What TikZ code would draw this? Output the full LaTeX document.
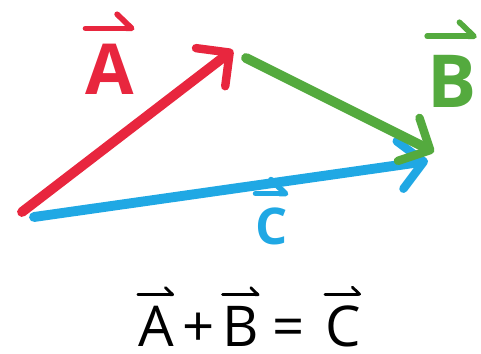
\documentclass[tikz,border=0pt]{standalone}
\usepackage{fontspec}
\setmainfont{Open Sans}
\usetikzlibrary{arrows.meta}
\definecolor{vecred}{RGB}{232,38,62}
\definecolor{vecgreen}{RGB}{84,170,62}
\definecolor{vecblue}{RGB}{32,168,228}

\begin{document}
\begin{tikzpicture}[x=0.025cm,y=-0.025cm,
    vector/.style={line width=7pt,line cap=round,
      -{Straight Barb[round,length=0.6cm,width=1.2cm,line width=6pt]}},
    vlabel/.style={anchor=base,inner sep=0pt,font=\bfseries\fontsize{#1}{#1}\selectfont},
    sumsym/.style={anchor=base,inner sep=0pt,font=\fontsize{40}{40}\selectfont},
    overarrow/.style={line width=#1,line cap=round,
      -{Straight Barb[harpoon,round,length=2.6*#1,width=5*#1]}}]
  \useasboundingbox (0,0) rectangle (481,354);
  % end points of the three vectors
  \coordinate (a0) at (22,212);
  \coordinate (a1) at (233,50);
  \coordinate (b0) at (246,58);
  \coordinate (b1) at (434,152);
  \coordinate (c0) at (34,217);
  \coordinate (c1) at (428,161);
  \draw[vector,vecblue] (c0) -- (c1);
  \draw[vector,vecred] (a0) -- (a1);
  \draw[vector,vecgreen] (b0) -- (b1);
  % labels
  \node[vlabel=50,vecred] (labA) at (110,95) {A};
  \node[vlabel=52,vecgreen] (labB) at (452,108) {B};
  \node[vlabel=36,vecblue] (labC) at (272,245) {C};
  % the sum
  \node[sumsym] (sumA) at (156,346) {A};
  \node[sumsym] (plus) at (199,346) {+};
  \node[sumsym] (sumB) at (241,346) {B};
  \node[sumsym] (eq) at (289,346) {=};
  \node[sumsym] (sumC) at (343,346) {C};
  % arrows on top of the letters
  \foreach \lab/\up/\col in {labA/0.4cm/vecred,labB/0.48cm/vecgreen,labC/0.36cm/vecblue}
    \draw[overarrow=4pt,\col] ([yshift=\up]\lab.north west) -- ([yshift=\up]\lab.north east);
  \foreach \lab in {sumA,sumB,sumC}
    \draw[overarrow=2pt] ([yshift=0.27cm]\lab.north west) -- ([yshift=0.27cm]\lab.north east);
\end{tikzpicture}
\end{document}
